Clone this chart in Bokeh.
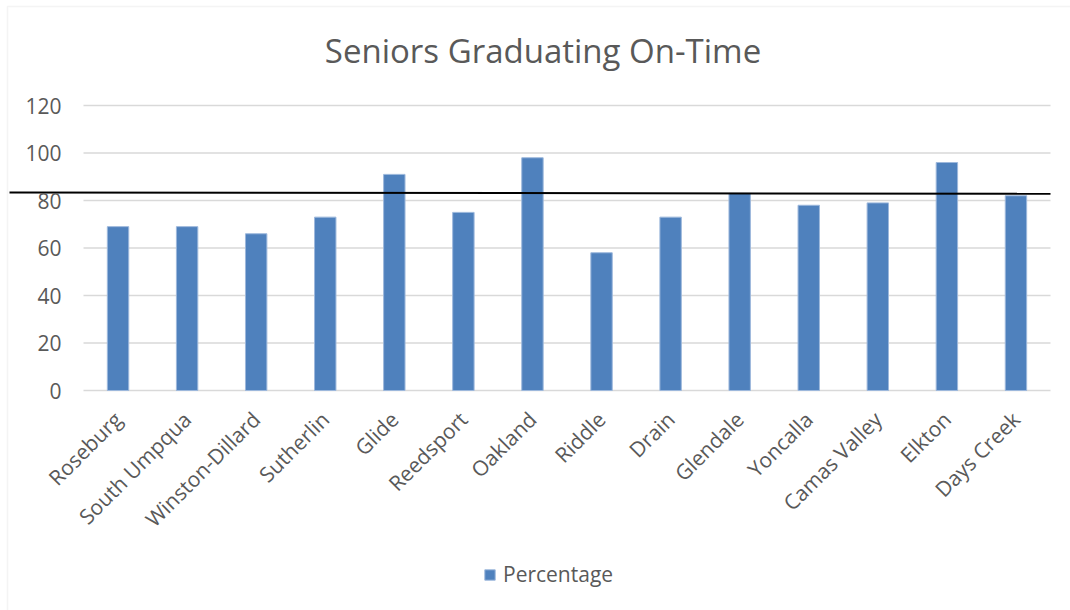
import math

from bokeh.embed import file_html
from bokeh.models import (BoxAnnotation, ColumnDataSource, FixedTicker, Label,
                          Legend, LegendItem, Range1d)
from bokeh.plotting import figure
from bokeh.resources import INLINE

# Douglas County school districts and their on-time graduation rates (%)
districts = ["Roseburg", "South Umpqua", "Winston-Dillard", "Sutherlin", "Glide",
             "Reedsport", "Oakland", "Riddle", "Drain", "Glendale", "Yoncalla",
             "Camas Valley", "Elkton", "Days Creek"]
percentages = [69, 69, 66, 73, 91, 75, 98, 58, 73, 83, 78, 79, 96, 82]

# reference line drawn across the chart (value at its left and right ends)
benchmark = [83.4, 82.8]

y_ticks = [0, 20, 40, 60, 80, 100, 120]

FONT = "Open Sans"
TEXT = "#595959"
GRID = "#D9D9D9"
BAR = "#4F81BD"
LABEL_SIZE = "21px"

# page geometry (pixels) -- the plot area sits inside a full-page frame
W, H = 1070, 610
AREA_L, AREA_R = 83, 1050
AREA_T, AREA_B = 105, 390
Y_MAX = 120

n = len(districts)
px_per_cat = (AREA_R - AREA_L) / n
px_per_unit = (AREA_B - AREA_T) / Y_MAX
x_start = -0.5 - AREA_L / px_per_cat
x_end = n - 0.5 + (W - AREA_R) / px_per_cat
y_end = Y_MAX + AREA_T / px_per_unit
y_start = y_end - H / px_per_unit


def xd(px):
    return x_start + px / px_per_cat


def yd(py):
    return y_end - py / px_per_unit


positions = list(range(n))
source = ColumnDataSource(data=dict(x=positions, pct=percentages))

p = figure(width=W, height=H, title=None,
           x_range=Range1d(x_start, x_end), y_range=Range1d(y_start, y_end),
           output_backend="svg", toolbar_location=None, min_border=0)
p.outline_line_color = None
p.background_fill_color = "white"
p.border_fill_color = "white"
p.grid.visible = False

# horizontal gridlines over the category span
grid_src = ColumnDataSource(data=dict(y=y_ticks))
p.segment(x0=-0.5, x1=n - 0.5, y0="y", y1="y", source=grid_src,
          line_color=GRID, line_width=1.5)

bars = p.vbar(x="x", top="pct", width=0.31, source=source,
              fill_color=BAR, line_color="#9DB8DC", line_width=1)

# black reference line, running past the plot area on the left
p.segment(x0=[xd(9)], x1=[xd(AREA_R)], y0=[benchmark[0]], y1=[benchmark[1]],
          line_color="black", line_width=2)

# title
p.add_layout(Label(x=xd(542.5), y=yd(50), text="Seniors Graduating On-Time",
                   text_align="center", text_baseline="alphabetic",
                   text_font=FONT, text_font_size="33px", text_color=TEXT))

# y axis
yax = p.yaxis[0]
yax.fixed_location = -0.5
yax.ticker = FixedTicker(ticks=y_ticks)
yax.axis_line_color = None
yax.major_tick_line_color = None
yax.minor_tick_line_color = None
yax.major_tick_out = 0
yax.major_tick_in = 0
yax.major_label_standoff = 22
yax.major_label_text_font = FONT
yax.major_label_text_font_size = LABEL_SIZE
yax.major_label_text_color = TEXT

# x axis with the district names
xax = p.xaxis[0]
xax.fixed_location = 0
xax.ticker = FixedTicker(ticks=positions)
xax.major_label_overrides = {i: d for i, d in zip(positions, districts)}
xax.axis_line_color = None
xax.major_tick_line_color = None
xax.minor_tick_line_color = None
xax.major_tick_out = 0
xax.major_tick_in = 0
xax.major_label_standoff = 25
xax.major_label_orientation = math.pi / 4
xax.major_label_text_font = FONT
xax.major_label_text_font_size = LABEL_SIZE
xax.major_label_text_color = TEXT

# legend under the category labels
legend = Legend(items=[LegendItem(label="Percentage", renderers=[bars])],
                location=(483, 22), orientation="horizontal",
                label_text_font=FONT, label_text_font_size=LABEL_SIZE,
                label_text_color=TEXT, glyph_width=13, glyph_height=13,
                border_line_color=None, background_fill_alpha=0,
                margin=0, padding=0, label_standoff=7)
p.add_layout(legend, "center")

# light border around the chart area
p.add_layout(BoxAnnotation(left=xd(7), top=yd(6), right=x_end + 5, bottom=y_start - 5,
                           fill_alpha=0, line_color=GRID, line_width=1.5))

open("out.html", "w").write(file_html(p, INLINE))
